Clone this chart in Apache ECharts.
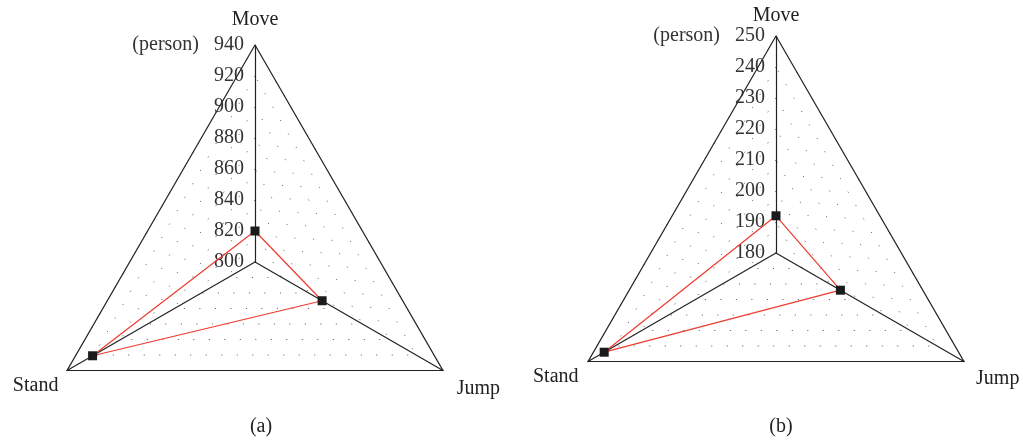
<!DOCTYPE html>
<html>
<head>
<meta charset="utf-8">
<script src="https://cdn.jsdelivr.net/npm/echarts@6/dist/echarts.min.js"></script>
<style>
  html, body { margin: 0; padding: 0; background: #fff; }
  #chart { width: 1023px; height: 440px; }
</style>
</head>
<body>
<div id="chart"></div>
<script>
// axes, counter-clockwise from the top
var axisNames = ['Move', 'Stand', 'Jump'];

// panel (a)
var minA = 800, maxA = 940;
var valuesA = [820, 921, 850];
// panel (b)
var minB = 180, maxB = 250;
var valuesB = [192, 244, 204];

var panelLabels = ['(a)', '(b)'];
var unitText = '(person)';

var FONT = '"Liberation Serif", "DejaVu Serif", serif';
var FS = 20;

// name gap per panel (Move, Stand, Jump)
var nameGapA = [15, 10, 16];
var nameGapB = [7, 11, 14];

function makeIndicators(min, max, gaps, withLabels) {
    return axisNames.map(function (name, i) {
        var ind = {name: name, min: min, max: max, nameGap: gaps[i]};
        if (withLabels && i == 0) {
            ind.axisLabel = {show: true};
        }
        return ind;
    });
}

// dotted inner grid + labelled Move axis
function gridRadar(center, min, max, gaps) {
    return {
        center: center,
        radius: 217,
        startAngle: 90,
        shape: 'polygon',
        splitNumber: 7,
        indicator: makeIndicators(min, max, gaps, true),
        axisName: {
            color: '#222', fontSize: FS, fontFamily: FONT,
            // bottom names sit a bit lower than the corners
            formatter: function (name) {
                return name == 'Move' ? name : '\n' + name;
            }
        },
        axisLine: {show: true, lineStyle: {color: '#222', width: 1.2}},
        axisTick: {show: false},
        axisLabel: {
            show: false,
            color: '#333',
            fontSize: FS,
            fontFamily: FONT,
            margin: 11,
            formatter: function (v) {
                return v == max ? unitText + '   ' + v : '' + v;
            }
        },
        splitLine: {lineStyle: {color: '#555', width: 1, type: [1, 14.5]}},
        splitArea: {show: false}
    };
}

// solid outer triangle
function frameRadar(center, min, max, gaps) {
    return {
        center: center,
        radius: 217,
        startAngle: 90,
        shape: 'polygon',
        splitNumber: 1,
        indicator: makeIndicators(min, max, gaps, false),
        axisName: {show: false},
        axisLine: {show: false},
        axisTick: {show: false},
        axisLabel: {show: false},
        splitLine: {lineStyle: {color: '#222', width: 1.2}},
        splitArea: {show: false}
    };
}

function dataSeries(radarIndex, values) {
    return {
        type: 'radar',
        radarIndex: radarIndex,
        symbol: 'rect',
        symbolSize: 9,
        itemStyle: {color: '#1b1b1b'},
        lineStyle: {color: '#ee3b2f', width: 1.2},
        z: 5,
        data: [{value: values}]
    };
}

var option = {
    animation: false,
    backgroundColor: '#fff',
    title: panelLabels.map(function (t, i) {
        return {
            text: t,
            left: i == 0 ? 256 : 776,
            textAlign: 'center',
            top: 412,
            textStyle: {fontSize: FS, fontWeight: 'normal', color: '#222', fontFamily: FONT}
        };
    }),
    radar: [
        gridRadar([255, 262], minA, maxA, nameGapA),
        frameRadar([255, 262], minA, maxA, nameGapA),
        gridRadar([776, 253], minB, maxB, nameGapB),
        frameRadar([776, 253], minB, maxB, nameGapB)
    ],
    series: [
        dataSeries(0, valuesA),
        dataSeries(2, valuesB)
    ]
};

var chart = echarts.init(document.getElementById('chart'));
chart.setOption(option);
</script>
</body>
</html>
